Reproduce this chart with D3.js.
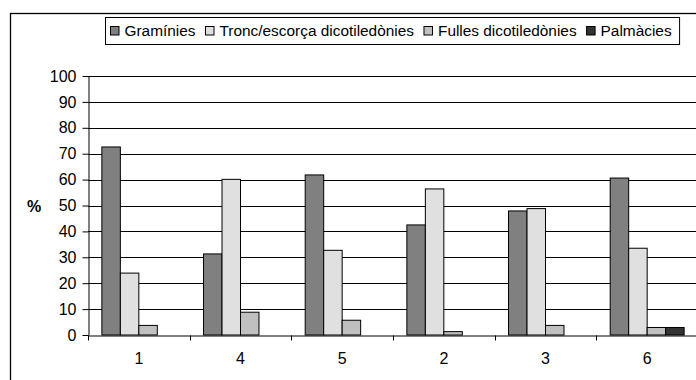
<!DOCTYPE html>
<html>
<head>
<meta charset="utf-8">
<script src="https://cdn.jsdelivr.net/npm/d3@7"></script>
<style>
  body { margin: 0; background: #fff; }
  svg { display: block; }
  text { font-family: "Liberation Sans", Arial, sans-serif; }
</style>
</head>
<body>
<script>
var w = 696
var h = 380

var categories = ["1", "4", "5", "2", "3", "6"];
var series = ["Gramínies", "Tronc/escorça dicotiledònies", "Fulles dicotiledònies", "Palmàcies"];

//              Gramínies  Tronc     Fulles    Palmàcies
var colors = [ "808080", "e0e0e0", "c0c0c0", "333333" ];

var graminies = [ 72.6, 31.3, 61.8, 42.5, 47.9, 60.6 ];
var tronc     = [ 23.9, 60.1, 32.7, 56.4, 48.8, 33.5 ];
var fulles    = [ 3.7, 8.8, 5.7, 1.3, 3.7, 2.9 ];
var palmacies = [ 0, 0, 0, 0, 0, 2.9 ];

var yTicks = [0, 10, 20, 30, 40, 50, 60, 70, 80, 90, 100];

var values = [graminies, tronc, fulles, palmacies];

var svg = d3.select("body").append("svg")
    .attr("width", w)
    .attr("height", h)

// outer chart frame (runs off the right and bottom of the picture)
svg.append("rect")
    .attr("x", 10.5)
    .attr("y", 13.5)
    .attr("width", 700)
    .attr("height", 400)
    .attr("fill", "none")
    .attr("stroke", "#000")
    .attr("stroke-width", 1.3)

var x = d3.scaleBand()
    .domain(categories)
    .range([88, 698]);

var y = d3.scaleLinear()
    .domain([0, 100])
    .range([335, 76]);

var barW = x.bandwidth() / 5.5;
var inner = d3.scaleBand()
    .domain(d3.range(series.length))
    .range([x.bandwidth() * 0.75 / 5.5, x.bandwidth() * 0.75 / 5.5 + barW * 4]);

// gridlines
svg.append("g").selectAll("line").data(yTicks.slice(1)).enter()
  .append("line")
    .attr("x1", 88)
    .attr("x2", 698)
    .attr("y1", function(d) { return Math.round(y(d)) + 0.5; })
    .attr("y2", function(d) { return Math.round(y(d)) + 0.5; })
    .attr("stroke", "#000")
    .attr("stroke-width", 1)

// bars
var groups = svg.append("g").selectAll("g").data(categories).enter()
  .append("g")
    .attr("transform", function(d) { return "translate(" + x(d) + ",0)"; });

groups.selectAll("rect").data(function(d, ci) {
      return values.map(function(v, si) { return { s: si, v: v[ci] }; });
    }).enter()
  .filter(function(d) { return d.v > 0; })
  .append("rect")
    .attr("x", function(d) { return inner(d.s); })
    .attr("width", barW)
    .attr("y", function(d) { return y(d.v); })
    .attr("height", function(d) { return y(0) - y(d.v); })
    .attr("fill", function(d) { return "#" + colors[d.s]; })
    .attr("stroke", "#000")
    .attr("stroke-width", 1)

// y axis
var yAxis = svg.append("g")
    .attr("transform", "translate(88.5,0)")
    .call(d3.axisLeft(y).tickValues(yTicks).tickSize(6).tickPadding(6).tickSizeOuter(0))
    .attr("font-family", null)
    .attr("font-size", null);
yAxis.selectAll("text").style("font-size", "16px").attr("fill", "#000");
yAxis.selectAll("line, path").attr("stroke", "#000");

// x axis with ticks between categories
var xAxis = svg.append("g")
    .attr("transform", "translate(0," + (y(0) + 0.5) + ")")
    .call(d3.axisBottom(x).tickSize(0).tickPadding(17).tickSizeOuter(0))
    .attr("font-family", null)
    .attr("font-size", null);
xAxis.selectAll("text").style("font-size", "16px").attr("fill", "#000");
xAxis.select("path").attr("stroke", "#000");

xAxis.selectAll("line.sep").data(categories).enter()
  .append("line")
    .attr("class", "sep")
    .attr("x1", function(d) { return Math.round(x(d)) + 0.5; })
    .attr("x2", function(d) { return Math.round(x(d)) + 0.5; })
    .attr("y1", 0)
    .attr("y2", 5)
    .attr("stroke", "#000")

svg.append("text")
    .attr("x", 34)
    .attr("y", y(50) + 6)
    .attr("text-anchor", "middle")
    .style("font-size", "16px")
    .style("font-weight", "bold")
    .text("%")

// legend
var legend = svg.append("g");
var legBox = legend.append("rect")
    .attr("y", 17.5)
    .attr("height", 27)
    .attr("fill", "#fff")
    .attr("stroke", "#000")

var lx = 110.5;
series.forEach(function(s, i) {
  legend.append("rect")
    .attr("x", lx)
    .attr("y", 26.5)
    .attr("width", 8.5)
    .attr("height", 8.5)
    .attr("fill", "#" + colors[i])
    .attr("stroke", "#000")
  var t = legend.append("text")
    .attr("x", lx + 14)
    .attr("y", 36)
    .style("font-size", "15.4px")
    .text(s);
  lx = lx + 14 + t.node().getComputedTextLength() + 10;
});
legBox.attr("x", 105.5).attr("width", lx - 105.5 - 2);
</script>
</body>
</html>
